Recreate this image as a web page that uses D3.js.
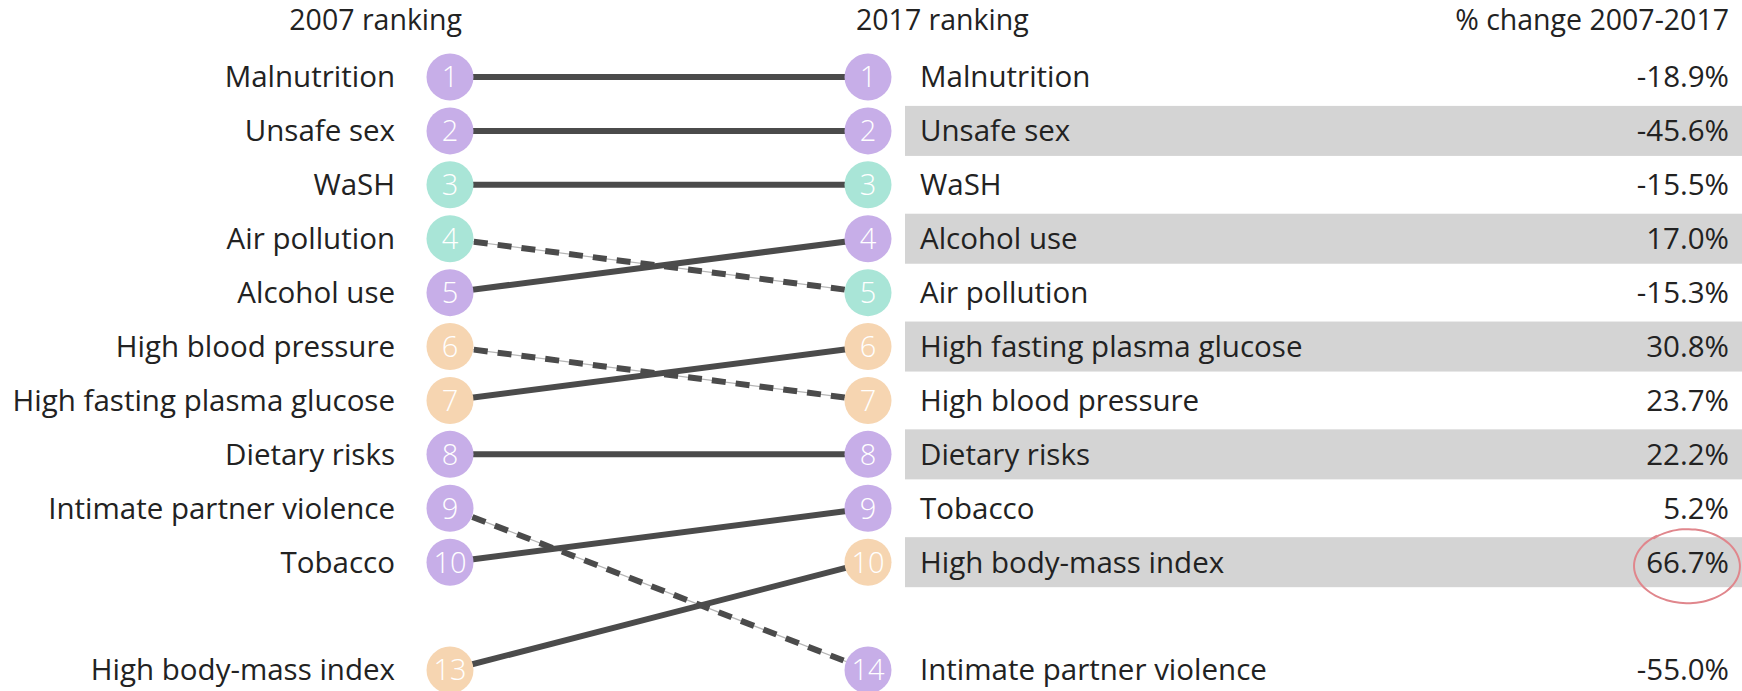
<!DOCTYPE html>
<html>
<head>
<meta charset="utf-8">
<script src="https://cdn.jsdelivr.net/npm/d3@7"></script>
<style>
  body { margin: 0; background: #ffffff; }
  text { font-family: "Open Sans", sans-serif; fill: #222; }
</style>
</head>
<body>
<div id="chart"></div>
<script>
// risk factors, in 2007 order
const risks = ["Malnutrition", "Unsafe sex", "WaSH", "Air pollution", "Alcohol use",
  "High blood pressure", "High fasting plasma glucose", "Dietary risks",
  "Intimate partner violence", "Tobacco", "High body-mass index"];
const rank2007 = [1, 2, 3, 4, 5, 6, 7, 8, 9, 10, 13];
// 2017 ranks by risk (same order as risks)
const rank2017 = [1, 2, 3, 5, 4, 7, 6, 8, 14, 9, 10];
// % change 2007-2017 by risk
const pctChange = [-18.9, -45.6, -15.5, -15.3, 17.0, 23.7, 30.8, 22.2, -55.0, 5.2, 66.7];
// risk group: b = behavioural, e = environmental, m = metabolic
const groups = ["b", "b", "e", "e", "b", "m", "m", "b", "b", "b", "m"];

const groupColor = { b: "#c7aee8", e: "#a9e5d7", m: "#f6d5b1" };

const width = 1742, height = 691;
const svg = d3.select("#chart").append("svg")
  .attr("width", width)
  .attr("height", height);

// ranks past 10 go in the last slot, one empty slot after rank 10
const slot = r => r <= 10 ? r - 1 : 11;
const y = d3.scaleLinear().domain([0, 11]).range([77, 670]);
const x = d3.scalePoint().domain(["2007", "2017"]).range([450, 868]);
const r = 23.5;
const fs = 28.5;   // headers
const lfs = 29.5;  // row labels

const data = risks.map((name, i) => ({
  name: name, r07: rank2007[i], r17: rank2017[i], pct: pctChange[i], group: groups[i]
}));

// grey bands on every other 2017 row
svg.selectAll(".band")
  .data(data.filter(d => d.r17 <= 10 && d.r17 % 2 === 0))
  .enter().append("rect")
  .attr("x", 905)
  .attr("y", d => y(slot(d.r17)) - 25)
  .attr("width", width - 905)
  .attr("height", 50)
  .attr("fill", "#d4d4d4");

// headers
svg.append("text").attr("x", 462).attr("y", 30).attr("text-anchor", "end")
  .style("font-size", fs + "px").text("2007 ranking");
svg.append("text").attr("x", 856).attr("y", 30)
  .style("font-size", fs + "px").text("2017 ranking");
svg.append("text").attr("x", 1729).attr("y", 30).attr("text-anchor", "end")
  .style("font-size", fs + "px").text("% change 2007-2017");

// connecting lines, dashed when the risk fell in rank
const links = svg.selectAll(".link")
  .data(data)
  .enter().append("g")
  .attr("class", "link");

links.filter(d => d.r17 > d.r07).append("line")
  .attr("x1", x("2007")).attr("y1", d => y(slot(d.r07)))
  .attr("x2", x("2017")).attr("y2", d => y(slot(d.r17)))
  .attr("stroke", "#b5b5b5")
  .attr("stroke-width", 1.2);

links.append("line")
  .attr("x1", x("2007")).attr("y1", d => y(slot(d.r07)))
  .attr("x2", x("2017")).attr("y2", d => y(slot(d.r17)))
  .attr("stroke", "#4b4b4b")
  .attr("stroke-width", 6)
  .attr("stroke-dasharray", d => d.r17 > d.r07 ? "14,10" : null);

// circles with rank numbers
["2007", "2017"].forEach(yr => {
  const key = yr === "2007" ? "r07" : "r17";
  const g = svg.selectAll(".node" + yr)
    .data(data)
    .enter().append("g")
    .attr("transform", d => `translate(${x(yr)},${y(slot(d[key]))})`);
  g.append("circle")
    .attr("r", r)
    .attr("fill", d => groupColor[d.group]);
  g.append("text")
    .attr("text-anchor", "middle")
    .attr("dy", "0.36em")
    .style("font-size", "29px")
    .style("font-weight", 300)
    .style("fill", "#ffffff")
    .text(d => d[key]);
});

// 2007 labels
svg.selectAll(".lab07")
  .data(data)
  .enter().append("text")
  .attr("x", 395)
  .attr("y", d => y(slot(d.r07)))
  .attr("dy", "0.35em")
  .attr("text-anchor", "end")
  .style("font-size", lfs + "px")
  .text(d => d.name);

// 2017 labels
svg.selectAll(".lab17")
  .data(data)
  .enter().append("text")
  .attr("x", 920)
  .attr("y", d => y(slot(d.r17)))
  .attr("dy", "0.35em")
  .style("font-size", lfs + "px")
  .text(d => d.name);

// % change
const pcts = svg.selectAll(".pct")
  .data(data)
  .enter().append("text")
  .attr("class", "pct")
  .attr("x", 1729)
  .attr("y", d => y(slot(d.r17)))
  .attr("dy", "0.35em")
  .attr("text-anchor", "end")
  .style("font-size", lfs + "px")
  .text(d => d.pct.toFixed(1) + "%");

// hand-drawn red ring around the biggest rise
const biggest = data.find(d => d.pct === d3.max(pctChange));
const box = pcts.filter(d => d === biggest).node().getBBox();
const left = box.x - 10, right = 1739;
const cx = (left + right) / 2, rx = (right - left) / 2;
const cy = y(slot(biggest.r17)) + 4, ry = 37;
const ring = d3.range(0, 1.04, 0.02).map(t => {
  const a = -2.3 + t * 2 * Math.PI;
  const k = 1 + 0.05 * t;
  return [cx + rx * k * Math.cos(a), cy + ry * Math.sin(a)];
});
svg.append("path")
  .attr("d", d3.line().curve(d3.curveCatmullRom)(ring))
  .attr("fill", "none")
  .attr("stroke", "#e0868c")
  .attr("stroke-width", 2);
</script>
</body>
</html>
